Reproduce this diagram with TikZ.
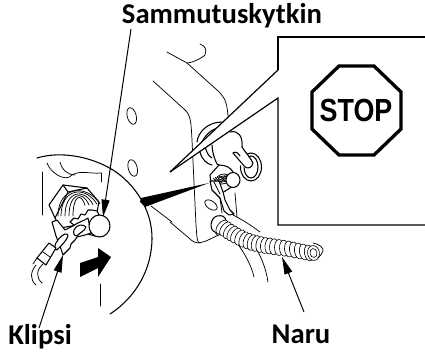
\documentclass[tikz,border=0pt]{standalone}
\usepackage{fontspec}
\setmainfont{Carlito}
\newfontfamily\stopfont{Liberation Sans}
\usetikzlibrary{arrows.meta}
\tikzset{
  lab/.style={font=\bfseries\fontsize{21.5}{24}\selectfont,inner sep=0pt,text=black,anchor=base},
  thin line/.style={draw=black,line width=0.55pt,line cap=round,line join=round},
  med line/.style={draw=black,line width=0.8pt,line cap=round,line join=round},
  leader/.style={draw=black,line width=0.75pt,-{Triangle[length=13pt,width=6pt]},shorten >=0pt},
  coil/.style={draw=black,line width=0.45pt,fill=white}
}
\begin{document}
\begin{tikzpicture}[x=0.75pt,y=-0.75pt]
\useasboundingbox (0,0) rectangle (425,356);
\fill[white] (0,0) rectangle (425,356);
% labels
\node[lab] (sam) at (222,24) {Sammutuskytkin};
\node[lab] (kli) at (40,344) {Klipsi};
\node[lab] (nar) at (301,343) {Naru};
% machine body
\draw[thin line] (167,52) -- (187,63) .. controls (192,63) and (202,58) .. (205,55) .. controls (207,49) and (205,46) .. (200,44);
\draw[thin line] (187,63) -- (217,90) .. controls (226,98) and (227,104) .. (228,116);
\draw[thin line] (153,81) -- (184,109) .. controls (191,115) and (191,122) .. (192,140) -- (196,225) .. controls (197,238) and (197,243) .. (200,243);
\draw[thin line] (170,222) -- (189,238) .. controls (196,245) and (199,243) .. (206,241) -- (223,233);
\draw[thin line] (235,193) -- (237,217);
% holes on body
\draw[thin line] (132.7,168) ellipse[x radius=4.5,y radius=8.5,rotate=15];
\draw[thin line] (131.7,116) ellipse[x radius=4.5,y radius=8.5,rotate=15];
\draw[thin line] (211,205) ellipse[x radius=7,y radius=4,rotate=-35];
% round knob
\draw[med line] (197,142) .. controls (198,132) and (208,122) .. (222,122);
\draw[med line] (201,146) .. controls (203,136) and (212,127) .. (226,126);
\draw[med line] (200,152) .. controls (202,160) and (207,164) .. (212,165);
\draw[med line] (205,147) .. controls (207,152) and (208,156) .. (212,158);
\draw[med line] (212,145) .. controls (212,152) and (215,160) .. (217,164) -- (232,172);
\draw[med line] (230,132) .. controls (238,130) and (243,136) .. (242,147) .. controls (245,152) and (250,157) .. (252,162);
\draw[med line] (251,167) ellipse[x radius=10.5,y radius=14];
\draw[med line] (251,167) ellipse[x radius=7,y radius=11];
\fill[white] (236,150) -- (243,147) -- (252,162) -- (250,171) -- (240,165) -- cycle;
\draw[med line] (242,147) .. controls (245,152) and (250,157) .. (253,163) .. controls (252,168) and (248,169) .. (245,167) -- (233,153);
\draw[med line] (233,153) .. controls (236,151) and (238,153) .. (240,156);
% STOP callout (white wedge over the knob)
\coordinate (wt) at (170,172);
\coordinate (wu) at (278,70);
\coordinate (wl) at (278,98);
\fill[white] (wt) -- (wu) -- (wl) -- cycle;
\draw[line width=0.9pt,line join=miter] (278,70) -- (278,37) -- (425,37);
\draw[line width=0.9pt,line join=miter] (wt) -- (wu);
\draw[line width=0.9pt,line join=miter] (wt) -- (wl) -- (278,225) -- (425,225);
% small switch
\draw[med line,fill=white] (210,175) -- (219,165) .. controls (226,165) and (231,168) .. (233,172) -- (235,185) -- (222,193) -- (211,184) -- cycle;
\foreach \r in {3,5,7,9}{\draw[thin line] (224,181) ++(-\r,2) arc[start angle=180,end angle=340,radius=\r];\draw[thin line] (222,176) ++(\r,-1) arc[start angle=0,end angle=160,radius=\r];}
\draw[med line,fill=white] (233,180) ellipse[x radius=7,y radius=7.5];
% clip and lever of small switch
\draw[med line,fill=white] (210,181) -- (219,181) -- (223,192) -- (225,200) -- (230,210) -- (234,214) -- (229,215) -- (224,211) -- (220,198) -- (212,190) -- cycle;
\draw[thin line] (214,182) -- (220,194);
\draw[thin line] (233,215) .. controls (243,220) and (252,226) .. (260,232);
\draw[thin line] (220,198) -- (222,213);
% coil base
\draw[med line,fill=white] (215,232) .. controls (209,230) and (210,218) .. (217,216) .. controls (222,215) and (226,216) .. (226,222);
\draw[thin line] (215,232) -- (218,236);
% wires under coil
\draw[thin line] (233,238) .. controls (243,250) and (251,264) .. (254,277);
\draw[thin line] (250,240) .. controls (260,252) and (266,268) .. (268,282);
% coil
\foreach \x/\y/\a in {
 222/227/-38,225.5/229/-35,229/231.5/-32,232.5/233.5/-30,236/235.5/-28,240/237.5/-25,244/239.5/-22,248/241/-18,
 252/242.5/-15,256/243.5/-12,260.5/244.5/-9,265/245.5/-6,269.5/246/-4,274/246.8/-2,279/247.5/0,
 284/248.2/3,289/249/5,294/250/7,299/251/9,304/252/10,309/253/10}
 {\draw[coil] (\x,\y) ellipse[x radius=4.5,y radius=8,rotate=\a];}
\draw[coil] (313.5,253) ellipse[x radius=6,y radius=7.5,rotate=10];
\draw[coil] (313.5,253) ellipse[x radius=3.5,y radius=4.5,rotate=10];
\draw[thin line] (313,243) .. controls (319,244) and (324,248) .. (323,251) .. controls (322,254) and (320,256) .. (318,258);
% enlarged circle
\draw[med line] (37,158) .. controls (60,151) and (90,156) .. (113,170) .. controls (135,184) and (152,210) .. (152,238) .. controls (152,270) and (135,298) .. (110,314);
% enlarged detail: background lines
\draw[thin line] (42,172) -- (42,215);
\draw[thin line] (101,173) -- (101,182);
\draw[thin line] (100.5,284) -- (100.5,306);
\draw[thin line] (47,163) .. controls (50,172) and (65,183) .. (72,175) .. controls (80,170) and (90,174) .. (101,173);
\draw[thin line] (60,162) .. controls (62,170) and (68,175) .. (75,175);
% hex nut
\draw[med line,fill=white] (49,205) -- (63,185) -- (87,188) -- (99,202) -- (95,222) -- (60,228) -- (55,218) -- cycle;
\draw[med line] (63,185) -- (68,192) -- (55,218) (68,192) -- (87,188);
% washers
\foreach \r in {6,10,14,18,21}{\draw[thin line] (79-\r,216) .. controls (79-\r,200-\r*0.6) and (79+\r*0.3,195-\r*0.6) .. (79+\r,206-\r*0.1);}
% threaded stem
\draw[med line,fill=white] (70,222) -- (74,218) -- (78,219) -- (81,214) -- (85,215) -- (88,210) -- (92,210) -- (97,211) -- (103,222) -- (95,236) -- (88,234) -- (78,228) -- cycle;
% clip
\draw[med line,fill=white] (52,222) -- (57,220) -- (65,230) -- (73,226) .. controls (78,222) and (84,221) .. (88,218) -- (91,233) -- (85,235) -- (77,237) -- (75,240) -- (71,244) -- (70,248) -- (63,255) -- (60,246) -- (56,236) -- cycle;
\draw[med line,fill=white] (74,230) .. controls (76,224) and (84,224) .. (86,227) .. controls (85,231) and (79,233) .. (77,236) .. controls (74,236) and (73,233) .. (74,230) -- cycle;
\draw[med line,fill=white] (58,240) .. controls (62,234) and (68,232) .. (68,236) .. controls (67,240) and (61,246) .. (57,250) .. controls (54,250) and (54,244) .. (58,240) -- cycle;
% connector
\draw[med line,fill=white] (49,243) -- (56,248) -- (46,265) -- (37,258) -- cycle;
\draw[thin line] (43,252) -- (50,257);
\draw[thin line] (37,258) -- (33,264);
\draw[thin line] (43,264) .. controls (36,270) and (36,278) .. (42,283);
\draw[thin line] (36,265) .. controls (30,272) and (30,280) .. (36,285);
% push button
\draw[med line,fill=white] (99.5,226) ellipse[x radius=10.5,y radius=11];
% black arrow
\fill[black] (80,263) -- (98,257) -- (98,248) -- (111,257) -- (98,277) -- (98,268) -- (80,277) -- cycle;
% zoom wedge
\coordinate (wa) at (141,198);
\coordinate (wb) at (209,183);
\fill[black] (wa) -- (140,202) -- (145,207) -- (wb) -- cycle;
\draw[thin line] (151,206) -- (172,222);
% stop sign
\node[inner sep=0pt,font=\stopfont\bfseries\fontsize{24}{24}\selectfont] (stop) at (356,110) {\scalebox{0.84}[1]{STOP}};
\draw[line width=2.5pt,line join=miter] (339,66)--(374,66)--(401,92)--(401,129)--(374,155)--(339,155)--(312,129)--(312,92)--cycle;
% leaders
\coordinate (samTip) at (103,217);
\coordinate (kliTip) at (63,255);
\coordinate (narTip) at (282,257);
\coordinate (kliFrom) at (39,328);
\coordinate (narFrom) at (304,312);
\coordinate (samFrom) at (131,29);
\draw[leader] (samFrom) -- (samTip);
\draw[leader] (kliFrom) -- (kliTip);
\draw[leader] (narFrom) -- (narTip);
\end{tikzpicture}
\end{document}
